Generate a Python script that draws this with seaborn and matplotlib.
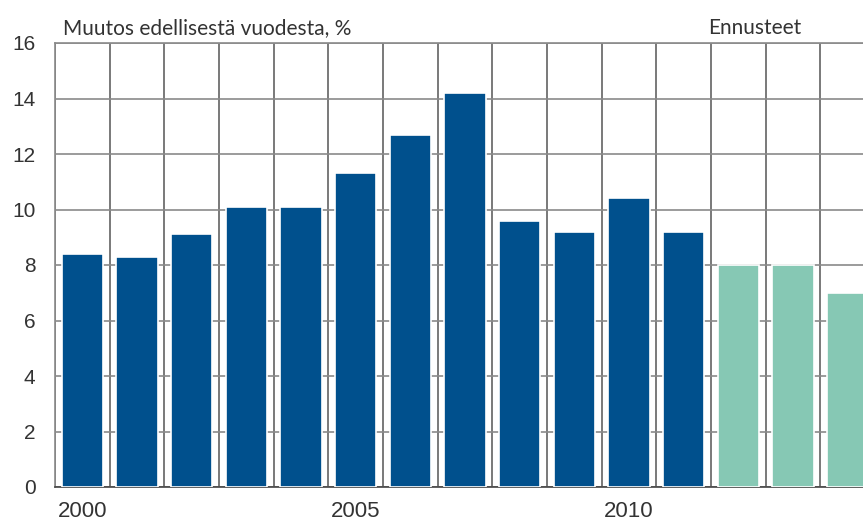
import matplotlib
matplotlib.use("Agg")
import matplotlib.pyplot as plt
import seaborn as sns
import pandas as pd
import numpy as np

years = [str(y) for y in range(2000, 2015)]
values = [8.4, 8.3, 9.1, 10.1, 10.1, 11.3, 12.7, 14.2, 9.6, 9.2, 10.4, 9.2, 8.0, 8.0, 7.0]
kind = ["Toteutunut"] * 12 + ["Ennuste"] * 3
shown_year_labels = ["2000", "2005", "2010"]
yticks = [0, 2, 4, 6, 8, 10, 12, 14, 16]
title_left = "Muutos edellisestä vuodesta, %"
title_right = "Ennusteet"

df = pd.DataFrame({"vuosi": years, "muutos": values, "tyyppi": kind})

sns.set_theme(style="white")
plt.rcParams["font.family"] = ["Liberation Sans", "DejaVu Sans"]

fig = plt.figure(figsize=(8.63, 5.22), dpi=100)
ax = fig.add_axes([55 / 863, 35 / 522, 820 / 863, 444 / 522])

palette = {"Toteutunut": "#00508d", "Ennuste": "#86c8b4"}
sns.barplot(data=df, x="vuosi", y="muutos", hue="tyyppi", palette=palette,
            dodge=False, width=0.76, saturation=1, legend=False, ax=ax,
            edgecolor="white", linewidth=1.2, zorder=3)

tick_font = ["Liberation Sans", "DejaVu Sans"]
ax.set_xlim(-0.5, len(years) - 0.5)
ax.set_ylim(0, 16)
ax.set_yticks(yticks)
ax.set_yticklabels([str(t) for t in yticks], fontsize=15, color="#333333",
                   family=tick_font)
pos = [years.index(y) for y in shown_year_labels]
ax.set_xticks(pos)
ax.set_xticklabels(shown_year_labels, fontsize=16, color="#333333",
                   family=tick_font)
ax.set_xticks(np.arange(-0.5, len(years), 1.0), minor=True)
ax.tick_params(axis="both", which="both", length=0)
ax.tick_params(axis="x", pad=10)
ax.tick_params(axis="y", pad=14)

ax.grid(False)
ax.yaxis.grid(True, color="#8a8a8a", linewidth=1.2, zorder=0)
ax.xaxis.grid(True, which="minor", color="#6e6e6e", linewidth=1.3, zorder=0)
ax.set_axisbelow(True)
for s in ["top", "left", "right"]:
    ax.spines[s].set_color("#8a8a8a")
    ax.spines[s].set_linewidth(1.2)
ax.spines["bottom"].set_color("#444444")
ax.spines["bottom"].set_linewidth(1.2)
ax.set_xlabel("")
ax.set_ylabel("")

fig.text(63 / 863, 1 - 28 / 522, title_left, fontsize=15, color="#333333",
         family=["Lato", "DejaVu Sans"], va="center", ha="left")
fig.text(708 / 863, 1 - 28 / 522, title_right, fontsize=15, color="#333333",
         family=["Lato", "DejaVu Sans"], va="center", ha="left")

fig.savefig("out.png", dpi=100)
